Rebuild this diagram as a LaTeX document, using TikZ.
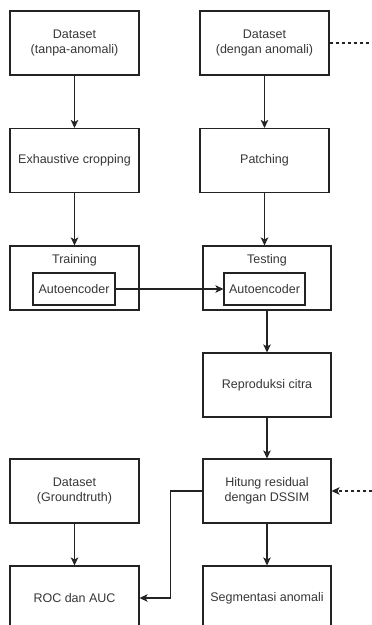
\documentclass[tikz,border=0pt]{standalone}
\usepackage{fontspec}
\setmainfont{Liberation Sans}
\usetikzlibrary{arrows.meta}
\definecolor{ink}{RGB}{35,35,35}
\definecolor{txt}{RGB}{55,55,55}
\tikzset{
  box/.style={draw=ink, line width=1.1pt, fill=white, minimum width=129pt, minimum height=64pt, inner sep=0pt, align=center, text=txt, font=\fontsize{12.5}{15}\selectfont},
  inbox/.style={draw=ink, line width=1.1pt, fill=white, minimum width=82pt, minimum height=32pt, inner sep=0pt, text=txt, font=\fontsize{12.5}{15}\selectfont},
  lbl/.style={text=txt, inner sep=0pt, font=\fontsize{12.5}{15}\selectfont},
  conn/.style={draw=ink, line width=1.1pt, -{Stealth[length=8pt,width=7.5pt,inset=2pt]}},
  dashconn/.style={draw=ink, line width=1.1pt, dash pattern=on 3pt off 3pt}
}
\begin{document}
\begin{tikzpicture}[x=1pt,y=-1pt]
\useasboundingbox (0,0) rectangle (372,625);
\clip (0,0) rectangle (372,625);
\fill[white] (0,0) rectangle (372,625);
% left column
\node[box] (a1) at (74.5,43) {Dataset\\(tanpa-anomali)};
\node[box] (a2) at (74.5,160.5) {Exhaustive cropping};
\node[box] (a3) at (74.5,278) {};
\node[lbl] (a3l) at (74.5,260) {Training};
\node[inbox] (ae1) at (74,289) {Autoencoder};
\node[box] (a5) at (74.5,491) {Dataset\\(Groundtruth)};
\node[box] (a6) at (74.5,598) {ROC dan AUC};
% right column
\node[box] (b1) at (264.5,43) {Dataset\\(dengan anomali)};
\node[box] (b2) at (264.5,160.5) {Patching};
\node[box, minimum width=128pt] (b3) at (267,278) {};
\node[lbl] (b3l) at (267,260) {Testing};
\node[inbox, minimum width=81pt] (ae2) at (264.5,289) {Autoencoder};
\node[box, minimum width=128pt] (b4) at (267,385) {Reproduksi citra};
\node[box, minimum width=128pt] (b5) at (267,491) {Hitung residual\\dengan DSSIM};
\node[box, minimum width=128pt] (b6) at (267,598) {Segmentasi anomali};
\coordinate (e1) at (372,43);
\coordinate (e2) at (372,491);
% connectors
\draw[conn] (a1.south) -- (a2.north);
\draw[conn] (a2.south) -- (a3.north);
\draw[conn] (b1.south) -- (b2.north);
\draw[conn] (b2.south) -- (b2.south |- b3.north);
\draw[conn] (ae1.east) -- (ae2.west);
\draw[conn] (b3.south) -- (b4.north);
\draw[conn] (b4.south) -- (b5.north);
\draw[conn] (b5.south) -- (b6.north);
\draw[conn] (a5.south) -- (a6.north);
\draw[conn] (b5.west) -- ++(-32,0) |- (a6.east);
\draw[dashconn] (b1.east) -- (e1);
\draw[dashconn, -{Stealth[length=8pt,width=7.5pt,inset=2pt]}] (e2) -- (b5.east);
\end{tikzpicture}
\end{document}
